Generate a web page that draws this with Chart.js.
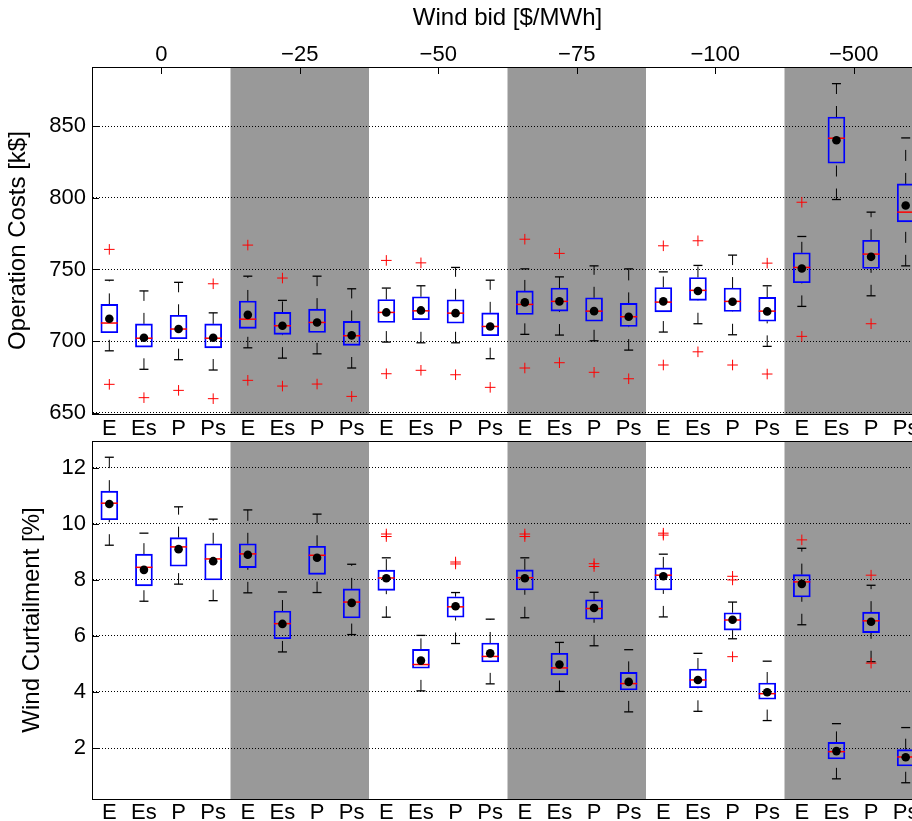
<!DOCTYPE html>
<html>
<head>
<meta charset="utf-8">
<title>Operation costs and wind curtailment by wind bid</title>
<script src="https://cdn.jsdelivr.net/npm/chart.js@4.4.1/dist/chart.umd.min.js"></script>
<style>
  html, body { margin: 0; padding: 0; background: #fff; overflow: hidden; }
  #frame { position: relative; width: 912px; height: 821px; overflow: hidden; }
  /* the axes run a little past the right edge of the window, as in the original */
  .panel { position: absolute; left: 0; width: 923px; }
  #costPanel { top: 0; height: 438px; }
  #curtPanel { top: 438px; height: 383px; }
</style>
</head>
<body>
<div id="frame">
  <div class="panel" id="costPanel"><canvas id="costChart"></canvas></div>
  <div class="panel" id="curtPanel"><canvas id="curtChart"></canvas></div>
</div>
<script>
// groups along the top axis, methods inside each group
const WIND_BIDS = ['0', '\u221225', '\u221250', '\u221275', '\u2212100', '\u2212500'];
const METHODS = ['E', 'Es', 'P', 'Ps'];
const SHADED_GROUPS = [1, 3, 5];
const COST_TICKS = [650, 700, 750, 800, 850];
const CURT_TICKS = [2, 4, 6, 8, 10, 12];

// Operation costs [k$] - one value per box, left to right
const costLow    = [693.2, 680.3, 687.0, 679.8, 695.3, 688.1, 691.1, 681.2, 699.3, 698.8, 698.8, 687.7, 704.7, 704.2, 700.2, 693.7, 706.3, 712.1, 704.4, 696.3, 724.2, 798.8, 731.6, 752.5];
const costQ1     = [705.8, 695.8, 701.6, 695.3, 708.9, 704.7, 706.0, 697.0, 713.0, 714.9, 712.5, 703.7, 718.6, 720.9, 713.9, 710.2, 720.4, 728.4, 720.7, 713.9, 740.7, 824.1, 750.7, 783.2];
const costMedian = [712.6, 702.0, 708.4, 702.0, 715.3, 710.7, 713.0, 703.7, 720.0, 721.1, 719.5, 710.2, 725.6, 727.7, 720.9, 717.0, 727.2, 735.4, 727.7, 720.9, 751.4, 841.6, 760.7, 790.0];
const costQ3     = [725.6, 712.0, 718.0, 712.0, 728.0, 720.0, 722.3, 713.7, 729.0, 730.9, 728.8, 719.7, 735.0, 737.0, 730.2, 726.3, 737.4, 744.4, 737.0, 730.5, 761.6, 856.4, 770.4, 809.7];
const costHigh   = [742.5, 735.0, 741.0, 719.7, 745.3, 728.4, 745.3, 736.5, 737.0, 738.6, 751.4, 742.5, 750.4, 744.8, 752.5, 750.4, 748.3, 752.8, 760.0, 738.6, 773.0, 879.7, 790.0, 841.8];
const costMean   = [715.6, 702.3, 708.4, 702.3, 718.3, 710.7, 713.0, 704.0, 720.0, 721.4, 719.5, 710.2, 727.0, 727.7, 720.9, 717.0, 727.7, 734.9, 727.4, 720.7, 750.7, 840.2, 758.8, 794.6];
const costOutliers = [
  [0, 764.0], [0, 669.8], [1, 660.5], [2, 665.6], [3, 740.0], [3, 659.8],
  [4, 767.0], [4, 672.6], [5, 744.0], [5, 668.6], [6, 670.0], [7, 661.4],
  [8, 756.3], [8, 677.2], [9, 754.6], [9, 679.6], [10, 676.5], [11, 667.7],
  [12, 771.1], [12, 681.2], [13, 761.2], [13, 684.9], [14, 678.2], [15, 673.7],
  [16, 766.5], [16, 683.3], [17, 770.0], [17, 692.5], [18, 683.3], [19, 754.4], [19, 677.0],
  [20, 796.9], [20, 703.3], [22, 712.1]
];

// Wind curtailment [%]
const curtLow    = [9.24, 7.24, 7.85, 7.26, 7.54, 5.43, 7.55, 6.05, 6.67, 4.04, 5.73, 4.29, 6.65, 4.02, 5.65, 3.29, 6.68, 3.31, 5.90, 2.98, 6.40, 0.90, 5.08, 0.76];
const curtQ1     = [10.15, 7.79, 8.49, 8.00, 8.44, 5.90, 8.20, 6.64, 7.63, 4.85, 6.67, 5.07, 7.64, 4.61, 6.60, 4.07, 7.64, 4.15, 6.21, 3.74, 7.39, 1.61, 6.12, 1.36];
const curtMedian = [10.74, 8.45, 9.18, 8.75, 8.93, 6.44, 8.88, 7.21, 8.07, 4.98, 7.04, 5.27, 8.08, 4.86, 6.98, 4.30, 8.17, 4.43, 6.57, 3.94, 7.93, 1.87, 6.54, 1.68];
const curtQ3     = [11.17, 8.92, 9.51, 9.29, 9.29, 6.89, 9.20, 7.68, 8.35, 5.52, 7.40, 5.75, 8.36, 5.38, 7.29, 4.70, 8.43, 4.82, 6.83, 4.32, 8.19, 2.20, 6.85, 1.94];
const curtHigh   = [12.38, 9.67, 10.61, 10.17, 10.50, 7.57, 10.35, 8.56, 8.79, 6.02, 7.55, 6.60, 8.79, 5.77, 7.56, 5.51, 8.92, 5.38, 7.21, 5.10, 9.13, 2.87, 7.81, 2.73];
const curtMean   = [10.71, 8.36, 9.10, 8.67, 8.90, 6.43, 8.79, 7.18, 8.06, 5.12, 7.06, 5.38, 8.06, 4.98, 7.00, 4.36, 8.13, 4.43, 6.58, 3.99, 7.86, 1.89, 6.51, 1.67];
const curtOutliers = [
  [8, 9.64], [8, 9.55], [10, 8.64], [10, 8.57], [12, 9.64], [12, 9.55],
  [14, 8.58], [14, 8.48], [16, 9.67], [16, 9.60], [18, 8.13], [18, 8.00], [18, 5.26],
  [20, 9.43], [22, 8.17], [22, 5.03]
];

const categories = WIND_BIDS.flatMap(() => METHODS);

const FONT = "'Liberation Sans', Arial, Helvetica, sans-serif";
const tickFont = { family: FONT, size: 22, lineHeight: 1 };
const titleFont = { family: FONT, size: 24 };

// gray background behind every other wind bid group
const bandPlugin = {
  id: 'bands',
  beforeDraw(chart) {
    const { ctx, chartArea: a, scales: { x } } = chart;
    ctx.save();
    ctx.fillStyle = '#999999';
    SHADED_GROUPS.forEach(g => {
      const x0 = x.getPixelForValue(g * METHODS.length - 0.5);
      const x1 = x.getPixelForValue((g + 1) * METHODS.length - 0.5);
      ctx.fillRect(x0, a.top, x1 - x0, a.bottom - a.top);
    });
    ctx.restore();
  }
};

// dashed whiskers from box edges to the caps
const whiskerPlugin = (low, q1, q3, high) => ({
  id: 'whiskers',
  beforeDatasetsDraw(chart) {
    const { ctx, scales: { x, y } } = chart;
    ctx.save();
    ctx.strokeStyle = '#000';
    ctx.lineWidth = 1;
    ctx.setLineDash([11, 12]);
    low.forEach((_, i) => {
      const px = x.getPixelForValue(i);
      [[low[i], q1[i]], [q3[i], high[i]]].forEach(([a, b]) => {
        ctx.beginPath();
        ctx.moveTo(px, y.getPixelForValue(a));
        ctx.lineTo(px, y.getPixelForValue(b));
        ctx.stroke();
      });
    });
    ctx.restore();
  }
});

// MATLAB style ticks pointing into the plot
const innerTicks = {
  id: 'innerTicks',
  afterDraw(chart) {
    const { ctx, chartArea: a, scales } = chart;
    ctx.save();
    ctx.strokeStyle = '#000';
    ctx.lineWidth = 1;
    ctx.beginPath();
    scales.y.ticks.forEach(t => {
      const py = Math.round(scales.y.getPixelForValue(t.value)) + 0.5;
      ctx.moveTo(a.left, py);
      ctx.lineTo(a.left + 7, py);
    });
    if (scales.xTop.options.ticks.display) {
      scales.xTop.ticks.forEach(t => {
        const px = Math.round(scales.xTop.getPixelForValue(t.value)) + 0.5;
        ctx.moveTo(px, a.top);
        ctx.lineTo(px, a.top + 7);
      });
    }
    ctx.stroke();
    ctx.restore();
  }
};

function makeBoxChart(id, s, cfg) {
  const idx = s.median.map((_, i) => i);
  return new Chart(document.getElementById(id), {
    type: 'bar',
    data: {
      datasets: [
        {
          label: 'Interquartile range',
          data: idx.map(i => ({ x: i, y: [s.q1[i], s.q3[i]] })),
          backgroundColor: 'transparent',
          borderColor: '#0000ff',
          borderWidth: 1.2,
          borderSkipped: false,
          barThickness: 17,
          grouped: false,
          order: 5
        },
        {
          type: 'scatter',
          label: 'Whisker caps',
          data: idx.flatMap(i => [{ x: i, y: s.low[i] }, { x: i, y: s.high[i] }]),
          pointStyle: 'line',
          pointRadius: 4.5,
          pointHoverRadius: 4.5,
          pointBorderColor: '#000',
          pointBorderWidth: 1.3,
          order: 4
        },
        {
          type: 'scatter',
          label: 'Outliers',
          data: s.outliers.map(([i, v]) => ({ x: i, y: v })),
          pointStyle: 'cross',
          pointRadius: 5.3,
          pointHoverRadius: 5.3,
          pointBorderColor: '#ff0000',
          pointBorderWidth: 1,
          order: 3
        },
        {
          type: 'scatter',
          label: 'Median',
          data: idx.map(i => ({ x: i, y: s.median[i] })),
          pointStyle: 'line',
          pointRadius: 8.5,
          pointHoverRadius: 8.5,
          pointBorderColor: '#ff0000',
          pointBorderWidth: 1.5,
          order: 2
        },
        {
          type: 'scatter',
          label: 'Mean',
          data: idx.map(i => ({ x: i, y: s.mean[i] })),
          pointStyle: 'circle',
          pointRadius: 4.3,
          pointHoverRadius: 4.3,
          pointBackgroundColor: '#000',
          pointBorderWidth: 0,
          order: 1
        }
      ]
    },
    options: {
      responsive: true,
      maintainAspectRatio: false,
      animation: false,
      events: [],
      // no extra room for point overflow: the plot box is placed exactly
      layout: { autoPadding: false, padding: { top: cfg.padTop, left: 0, right: 0, bottom: 0 } },
      plugins: { legend: { display: false }, tooltip: { enabled: false } },
      scales: {
        x: {
          type: 'linear',
          position: 'bottom',
          min: -0.5,
          max: categories.length - 0.5,
          offset: false,
          afterBuildTicks: sc => { sc.ticks = categories.map((_, i) => ({ value: i })); },
          afterFit: sc => { sc.height = cfg.bottomAxis; sc.paddingLeft = 0; sc.paddingRight = 0; },
          ticks: { autoSkip: false, maxRotation: 0, padding: cfg.catPad, color: '#000', font: tickFont,
                   callback: v => categories[v] },
          grid: { display: false, drawTicks: false },
          border: { display: true, color: '#000', width: 1 }
        },
        xTop: {
          type: 'linear',
          position: 'top',
          min: -0.5,
          max: categories.length - 0.5,
          offset: false,
          afterBuildTicks: sc => { sc.ticks = WIND_BIDS.map((_, g) => ({ value: g * METHODS.length + 1.5 })); },
          afterFit: sc => { sc.height = cfg.topAxis; sc.paddingLeft = 0; sc.paddingRight = 0; },
          ticks: { display: cfg.showBids, autoSkip: false, maxRotation: 0, padding: 1, color: '#000', font: tickFont,
                   callback: (v, i) => WIND_BIDS[i] },
          grid: { display: false, drawTicks: false },
          border: { display: true, color: '#000', width: 1 },
          title: { display: cfg.showBids, text: 'Wind bid [$/MWh]', color: '#000', font: titleFont,
                   padding: { top: 4.2, bottom: 0 } }
        },
        y: {
          min: cfg.yMin,
          max: cfg.yMax,
          afterBuildTicks: sc => { sc.ticks = cfg.yTicks.map(v => ({ value: v })); },
          afterFit: sc => { sc.width = 92; sc.paddingTop = 0; sc.paddingBottom = 0; },
          ticks: { padding: 6, color: '#000', font: tickFont },
          grid: { color: '#000', lineWidth: 1, drawTicks: false },
          border: { display: true, color: '#000', width: 1, dash: [1, 2] },
          title: { display: true, text: cfg.yTitle, color: '#000', font: titleFont,
                   padding: { top: cfg.yTitlePad, bottom: 0 } }
        }
      }
    },
    plugins: [bandPlugin, whiskerPlugin(s.low, s.q1, s.q3, s.high), innerTicks]
  });
}

makeBoxChart('costChart', {
  low: costLow, q1: costQ1, median: costMedian, q3: costQ3, high: costHigh,
  mean: costMean, outliers: costOutliers
}, {
  padTop: 0, topAxis: 67, bottomAxis: 24, catPad: 4, showBids: true,
  yMin: 649.1, yMax: 891.3, yTicks: COST_TICKS,
  yTitle: 'Operation Costs [k$]', yTitlePad: 4.2
});

makeBoxChart('curtChart', {
  low: curtLow, q1: curtQ1, median: curtMedian, q3: curtQ3, high: curtHigh,
  mean: curtMean, outliers: curtOutliers
}, {
  padTop: 3, topAxis: 0, bottomAxis: 22, catPad: 3, showBids: false,
  yMin: 0.18, yMax: 12.96, yTicks: CURT_TICKS,
  yTitle: 'Wind Curtailment [%]', yTitlePad: 17.5
});
</script>
</body>
</html>
